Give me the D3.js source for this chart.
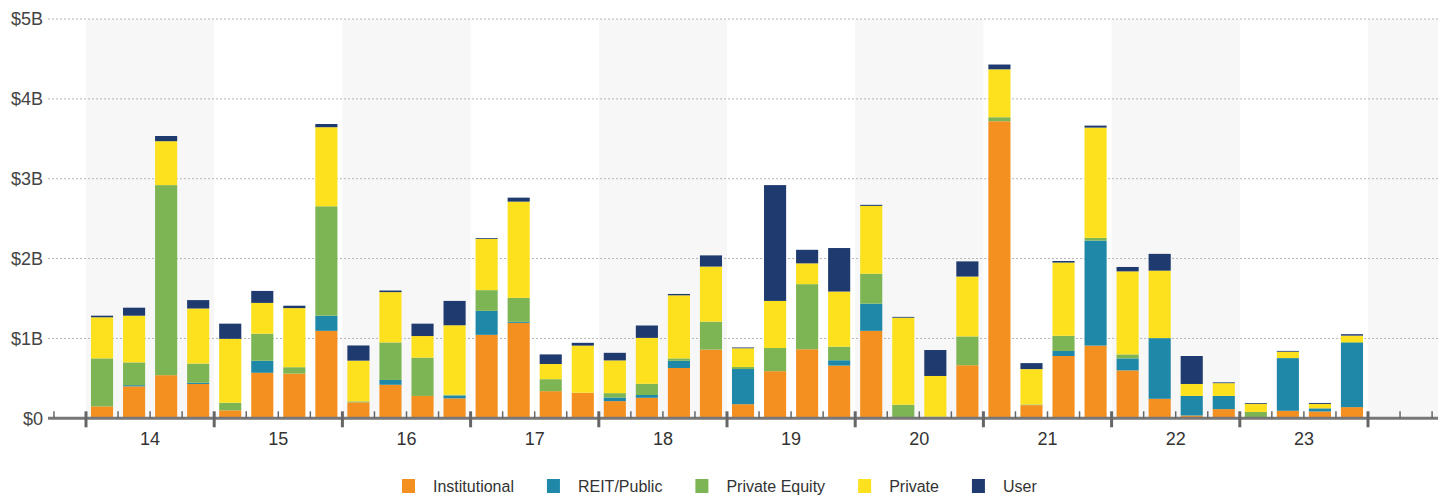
<!DOCTYPE html>
<html>
  <head>
    <meta charset="utf-8">
    <script type="text/javascript" src="https://d3js.org/d3.v7.min.js"></script>
  </head>
  <style>
        body {
          margin: 0;
          background: #fff;
        }
  </style>
  <body>
    <script type="text/javascript">
        // quarter data, $ billions
        var years = ["14", "15", "16", "17", "18", "19", "20", "21", "22", "23"];
        var quarters = d3.range(40);

        var institutional = [0.15, 0.40, 0.54, 0.43, 0.10, 0.57, 0.56, 1.095, 0.20, 0.42, 0.28, 0.25,
            1.045, 1.195, 0.34, 0.32, 0.215, 0.257, 0.63, 0.86, 0.177, 0.59, 0.865, 0.66,
            1.095, 0, 0, 0.665, 3.72, 0.165, 0.78, 0.91, 0.60, 0.244, 0.035, 0.115,
            0.005, 0.094, 0.085, 0.14];
        var reitPublic = [0, 0.015, 0, 0.015, 0, 0.15, 0, 0.19, 0, 0.06, 0, 0.035,
            0.30, 0.013, 0, 0, 0.045, 0.035, 0.09, 0, 0.44, 0, 0, 0.067,
            0.34, 0, 0, 0, 0, 0, 0.063, 1.315, 0.15, 0.76, 0.245, 0.165,
            0, 0.66, 0.04, 0.805];
        var privateEquity = [0.60, 0.285, 2.38, 0.24, 0.095, 0.34, 0.08, 1.37, 0.012, 0.47, 0.48, 0.01,
            0.26, 0.30, 0.15, 0, 0.055, 0.14, 0.03, 0.35, 0.025, 0.29, 0.815, 0.17,
            0.375, 0.17, 0.02, 0.36, 0.05, 0.008, 0.19, 0.035, 0.05, 0, 0, 0,
            0.075, 0, 0, 0.01];
        var privateBuyers = [0.515, 0.585, 0.55, 0.69, 0.80, 0.385, 0.74, 0.99, 0.51, 0.63, 0.27, 0.87,
            0.64, 1.205, 0.19, 0.59, 0.41, 0.575, 0.79, 0.69, 0.235, 0.59, 0.26, 0.69,
            0.85, 1.09, 0.51, 0.75, 0.60, 0.443, 0.917, 1.38, 1.04, 0.845, 0.15, 0.16,
            0.10, 0.08, 0.055, 0.08];
        var user = [0.02, 0.10, 0.065, 0.105, 0.19, 0.15, 0.03, 0.04, 0.19, 0.02, 0.155, 0.305,
            0.01, 0.05, 0.12, 0.035, 0.095, 0.155, 0.017, 0.14, 0.01, 1.45, 0.17, 0.545,
            0.013, 0.01, 0.325, 0.19, 0.06, 0.075, 0.02, 0.025, 0.055, 0.21, 0.35, 0.01,
            0.01, 0.01, 0.012, 0.018];

        var seriesNames = ["Institutional", "REIT/Public", "Private Equity", "Private", "User"];
        var seriesColors = ["#f39020", "#1f88a8", "#7db554", "#fde11e", "#1f3a6e"];
        var yTicks = [0, 1, 2, 3, 4, 5];

        var width = 1447,
            height = 498;

        var svg = d3.select("body").append("svg")
                    .attr("width", width)
                    .attr("height", height)
                    .style("font-family", "'Liberation Sans', Arial, sans-serif");

        // build rows for the stack
        var rows = quarters.map(function(i) {
            return {
                "Institutional": institutional[i],
                "REIT/Public": reitPublic[i],
                "Private Equity": privateEquity[i],
                "Private": privateBuyers[i],
                "User": user[i]
            };
        });
        var stacked = d3.stack().keys(seriesNames)(rows);

        //scales
        var left = 48, right = 1438;
        var y = d3.scaleLinear().domain([0, 5]).range([418.3, 19]);
        var xq = d3.scaleLinear().domain([0, 40]).range([86, 1368]);
        var x = d3.scaleBand().domain(quarters).range([86, 1368])
                    .paddingInner(0.31).paddingOuter(0.155);
        var color = d3.scaleOrdinal().domain(seriesNames).range(seriesColors);

        //shaded year bands (every other year plus the trailing space)
        var bands = [0, 2, 4, 6, 8];
        svg.append("g").selectAll("rect")
            .data(bands)
            .enter()
            .append("rect")
            .attr("x", function(d) { return xq(d * 4); })
            .attr("width", xq(4) - xq(0))
            .attr("y", y(5))
            .attr("height", y(0) - y(5))
            .attr("fill", "#f7f7f7");
        svg.append("rect")
            .attr("x", xq(40))
            .attr("width", right - xq(40))
            .attr("y", y(5))
            .attr("height", y(0) - y(5))
            .attr("fill", "#f7f7f7");

        //gridlines
        svg.append("g").selectAll("line")
            .data(yTicks.filter(function(d) { return d > 0; }))
            .enter()
            .append("line")
            .attr("x1", left)
            .attr("x2", right)
            .attr("y1", function(d) { return y(d); })
            .attr("y2", function(d) { return y(d); })
            .attr("stroke", "#b5b5b5")
            .attr("stroke-width", 1)
            .attr("stroke-dasharray", "2,2");

        //y labels
        svg.append("g").selectAll("text")
            .data(yTicks)
            .enter()
            .append("text")
            .attr("x", 43)
            .attr("y", function(d) { return y(d); })
            .attr("dy", "0.36em")
            .attr("text-anchor", "end")
            .attr("fill", "#444")
            .style("font-size", "18px")
            .text(function(d) { return d === 0 ? "$0" : "$" + d + "B"; });

        //stacked bars
        svg.append("g").selectAll("g")
            .data(stacked)
            .enter()
            .append("g")
            .attr("fill", function(d) { return color(d.key); })
            .selectAll("rect")
            .data(function(d) { return d; })
            .enter()
            .append("rect")
            .attr("x", function(d, i) { return x(i); })
            .attr("width", x.bandwidth())
            .attr("y", function(d) { return y(d[1]); })
            .attr("height", function(d) { return Math.max(0, y(d[0]) - y(d[1])); });

        //x axis line and ticks
        var axis = svg.append("g");
        axis.append("line")
            .attr("x1", left).attr("x2", right)
            .attr("y1", y(0)).attr("y2", y(0))
            .attr("stroke", "#777")
            .attr("stroke-width", 3);
        var tickIdx = d3.range(-1, 43);
        axis.selectAll(".tick")
            .data(tickIdx)
            .enter()
            .append("line")
            .attr("class", "tick")
            .attr("x1", function(d) { return xq(d); })
            .attr("x2", function(d) { return xq(d); })
            .attr("y1", y(0) - 7)
            .attr("y2", function(d) { return (d % 4 === 0 && d >= 0 && d <= 40) ? y(0) + 9 : y(0); })
            .attr("stroke", "#666")
            .attr("stroke-width", function(d) { return (d % 4 === 0 && d >= 0 && d <= 40) ? 3 : 1.5; });

        //year labels
        axis.selectAll(".year")
            .data(years)
            .enter()
            .append("text")
            .attr("class", "year")
            .attr("x", function(d, i) { return xq(i * 4 + 2); })
            .attr("y", 445)
            .attr("text-anchor", "middle")
            .attr("fill", "#333")
            .style("font-size", "18px")
            .text(function(d) { return d; });

        //legend
        var legend = svg.append("g")
                    .attr("transform", "translate(402,486)");
        var lx = 0;
        seriesNames.forEach(function(name) {
            var item = legend.append("g").attr("transform", "translate(" + lx + ",0)");
            item.append("rect")
                .attr("x", 0).attr("y", -7)
                .attr("width", 13).attr("height", 14)
                .attr("fill", color(name));
            var t = item.append("text")
                .attr("x", 31)
                .attr("dy", "0.36em")
                .attr("fill", "#333")
                .style("font-size", "16px")
                .text(name);
            lx += 31 + t.node().getComputedTextLength() + 33;
        });
    </script>
  </body>
</html>
